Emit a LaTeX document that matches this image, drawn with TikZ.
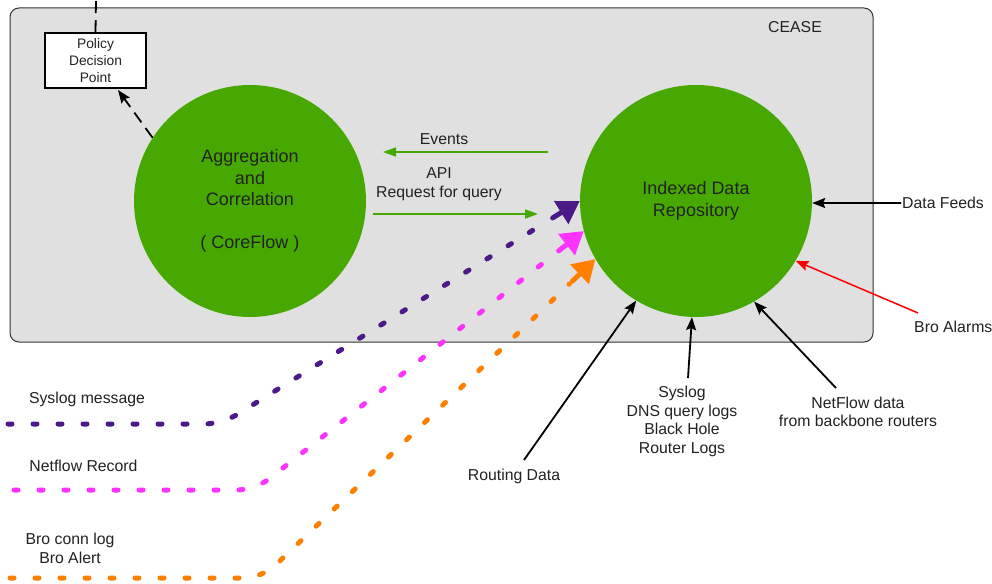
\documentclass[tikz,border=0pt]{standalone}
\usepackage{fontspec}
\setmainfont{Liberation Sans}
\usetikzlibrary{arrows.meta,calc}
\definecolor{boxgray}{HTML}{E0E0E0}
\definecolor{cgreen}{HTML}{46A800}
\definecolor{cpurple}{HTML}{4B1A88}
\definecolor{cmagenta}{HTML}{FF33FF}
\definecolor{corange}{HTML}{FF8000}
\definecolor{txt}{HTML}{222222}
\newcommand{\lblfont}{\fontsize{15.8}{18.5}\selectfont}
\newcommand{\bigfont}{\fontsize{18}{21.5}\selectfont}
\newcommand{\pdpfont}{\fontsize{13.8}{17}\selectfont}
\tikzset{
  lbl/.style={text=txt, font=\lblfont, inner sep=1pt, align=center},
  bubble/.style={circle, fill=cgreen, minimum size=232pt, inner sep=0pt, align=center, text=txt, font=\bigfont},
  feedarrow/.style={draw=black, line width=1.8pt, -{Stealth[length=13pt,width=10pt,inset=2pt]}},
  greenarrow/.style={draw=cgreen, line width=1.8pt, -{Triangle[length=13pt,width=9pt]}},
  flowdash/.style={line width=5pt, line cap=round, dash pattern=on 4pt off 21pt, rounded corners=18pt},
  flowtip/.style={line width=5pt, line cap=round, -{Triangle[length=22pt,width=26pt]}},
  pdpdash/.style={draw=black, line width=1.8pt, dash pattern=on 12pt off 7pt},
}
\begin{document}
\begin{tikzpicture}[x=1pt,y=-1pt]
\useasboundingbox (0,0) rectangle (992,583);
\fill[white] (0,0) rectangle (992,583);
% CEASE container
\draw[fill=boxgray, draw=black!80, line width=1pt, rounded corners=9pt] (10,8) rectangle (873,342);
\node[lbl] (cease) at (795,27) {CEASE};
% Policy decision point
\node[draw=black, fill=white, line width=1.6pt, minimum width=101pt, minimum height=55pt, inner sep=0pt, align=center, font=\pdpfont, text=txt] (pdp) at (95.5,60.5) {Policy\\Decision\\Point};
\coordinate (pdptop) at (96,0);
\draw[pdpdash] (pdp.north) -- (pdptop);
% circles
\node[bubble] (agg) at (250,201) {Aggregation\\and\\Correlation\\[21.5pt]( CoreFlow )};
\node[bubble] (idr) at (696,201) {Indexed Data\\Repository};
% pdp arrow
\coordinate (pdpin) at (118,90);
\draw[pdpdash, -{Stealth[length=13pt,width=10pt,inset=2pt]}] (agg.147) -- (pdpin);
% events / API
\coordinate (ev1) at (548,152); \coordinate (ev2) at (383,152);
\coordinate (ap1) at (373,214); \coordinate (ap2) at (538,214);
\draw[greenarrow] (ev1) -- (ev2);
\draw[greenarrow] (ap1) -- (ap2);
\node[lbl] (events) at (444,139) {Events};
\node[lbl] (api) at (439,184) {API\\Request for query};
% coloured flows
\coordinate (p0) at (8,424);  \coordinate (p1) at (222,424);
\coordinate (m0) at (14,490); \coordinate (m1) at (255,490);
\coordinate (o0) at (10,578); \coordinate (o1) at (262,578);
\draw[flowdash, cpurple] (p0) -- (p1) -- ($(idr.180)!36pt!(p1)$);
\draw[flowtip, cpurple] ($(idr.180)!32pt!(p1)$) -- (idr.180);
\draw[flowdash, cmagenta] (m0) -- (m1) -- ($(idr.195)!36pt!(m1)$);
\draw[flowtip, cmagenta] ($(idr.195)!32pt!(m1)$) -- (idr.195);
\draw[flowdash, corange] (o0) -- (o1) -- ($(idr.210)!36pt!(o1)$);
\draw[flowtip, corange] ($(idr.210)!32pt!(o1)$) -- (idr.210);
\node[lbl] (syslogmsg) at (87,399) {Syslog message};
\node[lbl] (netflowrec) at (83.5,466) {Netflow Record};
\node[lbl] (bro) at (70,548.5) {Bro conn log\\Bro Alert};
% external feeds
\node[lbl, anchor=west] (feeds) at (901,203) {Data Feeds};
\draw[feedarrow] (feeds.west) -- (idr.-1);
\node[lbl, anchor=west] (alarms) at (913,327) {Bro Alarms};
\coordinate (al0) at (918,313);
\draw[draw=red, line width=1.5pt, -{Stealth[length=13pt,width=10pt,inset=2pt]}] (al0) -- (idr.-31);
\node[lbl] (routing) at (514,476) {Routing Data};
\coordinate (rt0) at (524,460);
\draw[feedarrow] (rt0) -- (idr.239.6);
\node[lbl] (syslogs) at (682,421.5) {Syslog\\DNS query logs\\Black Hole\\Router Logs};
\coordinate (sl0) at (688,378);
\draw[feedarrow] (sl0) -- (idr.268);
\node[lbl] (netflow) at (858,412) {NetFlow data\\from backbone routers};
\coordinate (nf0) at (836,388);
\draw[feedarrow] (nf0) -- (idr.-60.7);
\end{tikzpicture}
\end{document}
